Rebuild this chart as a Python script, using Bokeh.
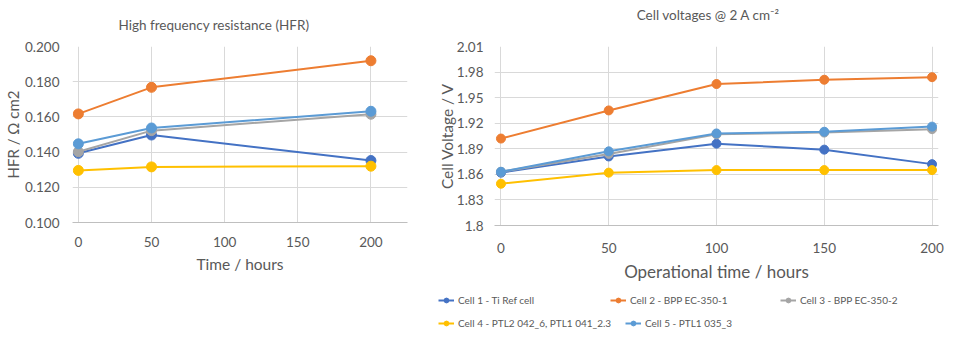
from bokeh.plotting import figure
from bokeh.layouts import row, column
from bokeh.models import (FixedTicker, PrintfTickFormatter, CustomJSTickFormatter,
                          Range1d, Legend, LegendItem)
from bokeh.embed import file_html
from bokeh.resources import INLINE

# ---------------- data ----------------
hfr_hours = [0, 50, 200]
hfr_cell1 = [0.1393, 0.1497, 0.1352]
hfr_cell2 = [0.1617, 0.1768, 0.1919]
hfr_cell3 = [0.1402, 0.1522, 0.1615]
hfr_cell4 = [0.1296, 0.1316, 0.1320]
hfr_cell5 = [0.1447, 0.1537, 0.1632]

volt_hours = [0, 50, 100, 150, 200]
volt_cell1 = [1.862, 1.881, 1.896, 1.889, 1.872]
volt_cell2 = [1.902, 1.935, 1.966, 1.971, 1.974]
volt_cell3 = [1.863, 1.884, 1.907, 1.909, 1.913]
volt_cell4 = [1.849, 1.862, 1.865, 1.865, 1.865]
volt_cell5 = [1.863, 1.887, 1.908, 1.910, 1.916]

series_names = ["Cell 1 - Ti Ref cell", "Cell 2 - BPP EC-350-1", "Cell 3 - BPP EC-350-2",
                "Cell 4 - PTL2 042_6, PTL1 041_2.3", "Cell 5 - PTL1 035_3"]
series_colors = ["#4472C4", "#ED7D31", "#A5A5A5", "#FFC000", "#5B9BD5"]

hfr_ticks = [0.100, 0.120, 0.140, 0.160, 0.180, 0.200]
volt_ticks = [1.8, 1.83, 1.86, 1.89, 1.92, 1.95, 1.98, 2.01]
hour_ticks_left = [0, 50, 100, 150, 200]
hour_ticks_right = [0, 50, 100, 150, 200]

FONT = "Lato"
TXT = "#595959"
GRID = "#D9D9D9"


def bare(p):
    p.outline_line_color = None
    p.background_fill_color = None
    p.border_fill_color = None
    p.frame_align = False


def style(p):
    bare(p)
    p.title.text_font = FONT
    p.title.text_font_style = "normal"
    p.title.text_color = TXT
    for ax in (p.xaxis[0], p.yaxis[0]):
        ax.axis_line_color = None
        ax.major_tick_line_color = None
        ax.minor_tick_line_color = None
        ax.major_label_text_font = FONT
        ax.major_label_text_color = TXT
        ax.major_label_text_font_size = "13.5px"
        ax.axis_label_text_font = FONT
        ax.axis_label_text_font_style = "normal"
        ax.axis_label_text_color = TXT
    p.xaxis[0].axis_line_color = "#BFBFBF"
    p.xaxis[0].axis_line_width = 1.2
    p.xgrid.grid_line_color = GRID
    p.ygrid.grid_line_color = GRID


# ---------------- left chart ----------------
left = figure(width=420, height=330, output_backend="svg", toolbar_location=None,
              x_range=Range1d(-4, 225), y_range=Range1d(0.100, 0.200),
              min_border_left=71, min_border_right=13, min_border_top=45, min_border_bottom=108,
              title="High frequency resistance (HFR)")
style(left)
left.title.text_font_size = "13.5px"
left.title.standoff = 28
left.title.align = "left"
left.title.offset = 46
left.xaxis.ticker = FixedTicker(ticks=hour_ticks_left)
left.yaxis.ticker = FixedTicker(ticks=hfr_ticks)
left.yaxis.formatter = PrintfTickFormatter(format="%.3f")
left.xaxis.axis_label = "Time / hours"
left.yaxis.axis_label = "HFR / Ω cm2"
left.xaxis.axis_label_text_font_size = "15.5px"
left.yaxis.axis_label_text_font_size = "15px"
left.xaxis.major_label_standoff = 8
left.yaxis.major_label_standoff = 7
left.yaxis.axis_label_standoff = 0

for ys, c in zip([hfr_cell1, hfr_cell2, hfr_cell3, hfr_cell4, hfr_cell5], series_colors):
    left.line(hfr_hours, ys, line_color=c, line_width=2)
    left.scatter(hfr_hours, ys, size=10, fill_color=c, line_color=c)

# ---------------- right chart title strip ----------------
rtitle = figure(width=559, height=30, output_backend="svg", toolbar_location=None,
                x_range=Range1d(0, 1), y_range=Range1d(0, 1),
                min_border_left=17, min_border_right=0, min_border_top=24, min_border_bottom=0,
                title="Cell voltages @ 2 A cm⁻²")
bare(rtitle)
rtitle.axis.visible = False
rtitle.grid.visible = False
rtitle.title.text_font = FONT
rtitle.title.text_font_style = "normal"
rtitle.title.text_color = TXT
rtitle.title.text_font_size = "13.5px"
rtitle.title.align = "center"
rtitle.title.standoff = 4

# ---------------- right chart ----------------
right = figure(width=559, height=254, output_backend="svg", toolbar_location=None,
               x_range=Range1d(-3, 203), y_range=Range1d(1.8, 2.01),
               min_border_left=74, min_border_right=41, min_border_top=16, min_border_bottom=57)
style(right)
right.xaxis.ticker = FixedTicker(ticks=hour_ticks_right)
right.yaxis.ticker = FixedTicker(ticks=volt_ticks)
right.yaxis.formatter = CustomJSTickFormatter(code="return String(Math.round(tick*100)/100);")
right.xaxis.axis_label = "Operational time / hours"
right.yaxis.axis_label = "Cell Voltage / V"
right.xaxis.axis_label_text_font_size = "17px"
right.yaxis.axis_label_text_font_size = "15.5px"
right.xaxis.major_label_standoff = 11
right.xaxis.axis_label_standoff = 5
right.yaxis.major_label_standoff = 5
right.yaxis.axis_label_standoff = -2

volt_series = [volt_cell1, volt_cell2, volt_cell3, volt_cell4, volt_cell5]
for ys, c in zip(volt_series, series_colors):
    right.line(volt_hours, ys, line_color=c, line_width=2)
    right.scatter(volt_hours, ys, size=9, fill_color=c, line_color=c)

# ---------------- legend strip (series drawn outside its visible range) ----------------
leg = figure(width=559, height=46, output_backend="svg", toolbar_location=None,
             x_range=Range1d(0, 1), y_range=Range1d(0, 1),
             min_border_left=0, min_border_right=0, min_border_top=0, min_border_bottom=0)
bare(leg)
leg.axis.visible = False
leg.grid.visible = False

items = []
for ys, c, n in zip(volt_series, series_colors, series_names):
    r1 = leg.line(volt_hours, ys, line_color=c, line_width=2)
    r2 = leg.scatter(volt_hours, ys, size=9, fill_color=c, line_color=c)
    items.append(LegendItem(label=n, renderers=[r1, r2]))

legend_locs = [(18, 24), (190, 24), (360, 24), (18, 1), (205, 1)]
for it, loc in zip(items, legend_locs):
    lg = Legend(items=[it], location=loc, orientation="horizontal",
                background_fill_alpha=0, border_line_color=None,
                padding=0, margin=0, spacing=0,
                glyph_width=16, glyph_height=12, label_height=12,
                label_standoff=4, label_text_font=FONT, label_text_font_size="10px",
                label_text_color=TXT)
    leg.add_layout(lg, "center")

layout = row(left, column(rtitle, right, leg, spacing=0), spacing=0)
open("out.html", "w").write(file_html(layout, INLINE))
